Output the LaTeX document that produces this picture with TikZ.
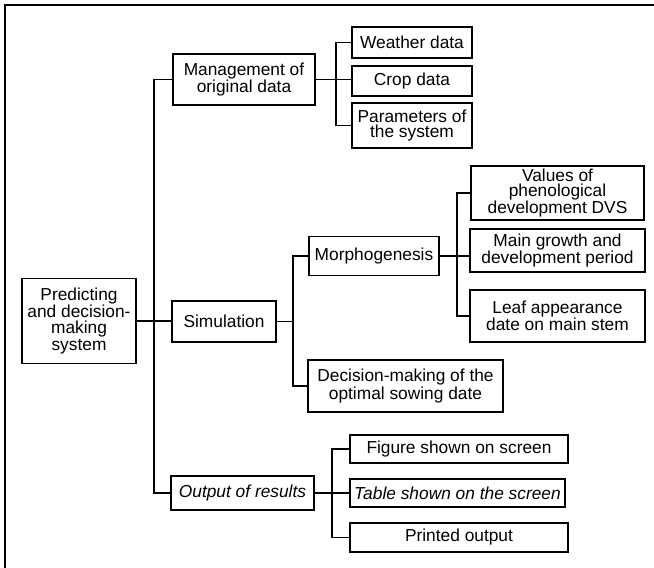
\documentclass[tikz,border=0pt]{standalone}
\usepackage{fontspec}
\setmainfont{Liberation Sans}
\begin{document}
\begin{tikzpicture}[x=0.75pt,y=-0.75pt,
  every node/.style={font=\fontsize{13}{11.5}\selectfont},
  box/.style={draw,line width=1.3pt,align=center,inner sep=0pt,anchor=center},
  sz/.style 2 args={minimum width=#1*0.75pt,minimum height=#2*0.75pt},
  link/.style={line width=1.4pt},
  frameline/.style={line width=1.6pt}]
\useasboundingbox (0,0) rectangle (654,568);

% outer frame (top and left edges)
\draw[frameline] (5,568) -- (5,5) -- (654,5);

% root
\node[box,sz={114}{85},font=\fontsize{13}{12.5}\selectfont] (pred) at (79,321) {Predicting\\and decision-\\making\\system};

% first level
\node[box,sz={142}{51}] (mgmt) at (244,79.5) {Management of\\original data};
\node[box,sz={104}{41}] (sim) at (224,321.5) {Simulation};
\node[box,sz={143}{34}] (out) at (242.5,493) {\itshape Output of results};

% data management
\node[box,sz={120}{31}] (weather) at (412,42.5) {Weather data};
\node[box,sz={120}{30}] (crop) at (412,81) {Crop data};
\node[box,sz={120}{45}] (param) at (412,125.5) {Parameters of\\the system};

% simulation
\node[box,sz={130}{39}] (morph) at (374,256) {Morphogenesis};
\node[box,sz={195}{52}] (dec) at (405.5,386) {Decision-making of the\\optimal sowing date};

% morphogenesis
\node[box,sz={173}{54}] (vals) at (557.5,193) {Values of\\phenological\\development DVS};
\node[box,sz={175}{43}] (grow) at (557.5,250.5) {Main growth and\\development period};
\node[box,sz={175}{52}] (leaf) at (557.5,316) {Leaf appearance\\date on main stem};

% output
\node[box,sz={218}{28}] (fig) at (459,449) {Figure shown on screen};
\node[box,sz={215}{28}] (tab) at (457.5,493) {\itshape Table shown on the screen};
\node[box,sz={218}{29}] (prn) at (459,537.5) {Printed output};

% bus coordinates
\coordinate (trunk) at (154,0);
\coordinate (mbus) at (336,0);
\coordinate (sbus) at (293,0);
\coordinate (pbus) at (457,0);
\coordinate (obus) at (332,0);

% root to first level
\draw[link] (pred.east) -- (sim.west |- pred.east);
\draw[link] (mgmt.west) -- (trunk |- mgmt.west) -- (trunk |- out.west) -- (out.west);

% data management branch
\draw[link] (mgmt.east) -- (crop.west |- mgmt.east);
\draw[link] (weather.west) -- (mbus |- weather.west) -- (mbus |- param.west) -- (param.west);

% simulation branch
\draw[link] (sim.east) -- (sbus |- sim.east);
\draw[link] (morph.west) -- (sbus |- morph.west) -- (sbus |- dec.west) -- (dec.west);

% morphogenesis branch
\draw[link] (morph.east) -- (grow.west |- morph.east);
\draw[link] (vals.west) -- (pbus |- vals.west) -- (pbus |- leaf.west) -- (leaf.west);

% output branch
\draw[link] (out.east) -- (tab.west |- out.east);
\draw[link] (fig.west) -- (obus |- fig.west) -- (obus |- prn.west) -- (prn.west);
\end{tikzpicture}
\end{document}
